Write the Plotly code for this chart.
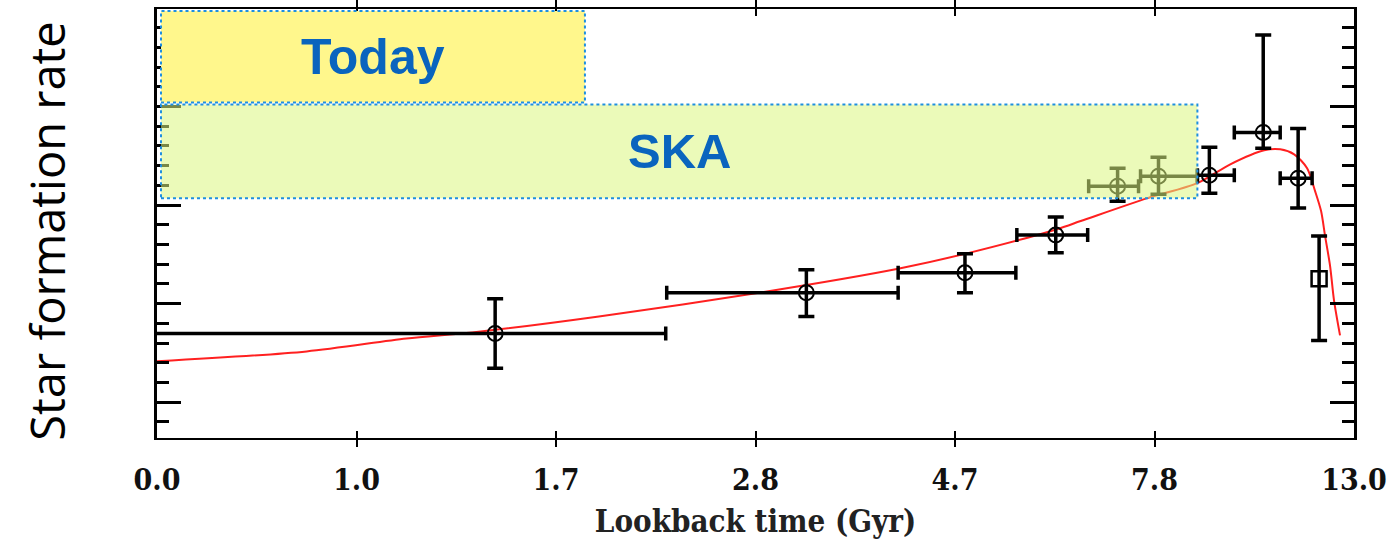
import plotly.graph_objects as go

# ---- data (x in evenly spaced tick units, y in major-tick units) ----
tick_pos = [0, 1, 2, 3, 4, 5, 6]
tick_labels = ["0.0", "1.0", "1.7", "2.8", "4.7", "7.8", "13.0"]

pt_x = [1.695, 3.255, 4.05, 4.505, 4.815, 5.02, 5.275, 5.545, 5.72]
pt_y = [0.697, 1.111, 1.313, 1.697, 2.192, 2.293, 2.303, 2.737, 2.273]
pt_xlo = [-0.06, 2.555, 3.715, 4.31, 4.67, 4.93, 5.215, 5.40, 5.63]
pt_xhi = [2.55, 3.715, 4.305, 4.665, 4.92, 5.215, 5.40, 5.63, 5.79]
pt_ylo = [0.343, 0.869, 1.111, 1.515, 2.040, 2.111, 2.121, 2.576, 1.970]
pt_yhi = [1.05, 1.343, 1.505, 1.879, 2.374, 2.485, 2.586, 3.727, 2.778]

sq_x = [5.825]
sq_y = [1.253]
sq_ylo = [0.626]
sq_yhi = [1.687]

fit_x = [0, 0.75, 1.25, 1.58, 2.215, 3.05, 3.715, 4.05, 4.515, 4.63, 4.965,
         5.215, 5.38, 5.55, 5.63, 5.70, 5.765, 5.805, 5.835, 5.855, 5.88, 5.90, 5.93]
fit_y = [0.414, 0.515, 0.646, 0.707, 0.869, 1.121, 1.354, 1.505, 1.758, 1.838, 2.071,
         2.222, 2.414, 2.556, 2.566, 2.515, 2.374, 2.141, 1.939, 1.687, 1.384, 1.030, 0.677]

box_names = ["Today", "SKA"]
box_x0 = [0.02, 0.02]
box_x1 = [2.145, 5.215]
box_y0 = [3.04, 2.07]
box_y1 = [3.97, 3.02]

fig = go.Figure()

fig.add_trace(go.Scatter(
    x=fit_x, y=fit_y, mode="lines", line=dict(color="#ff2020", width=2, shape="spline", smoothing=0.8),
    showlegend=False, hoverinfo="skip"))

fig.add_trace(go.Scatter(
    x=pt_x, y=pt_y, mode="markers",
    marker=dict(symbol="circle-open", size=15, color="black", line=dict(width=2, color="black")),
    error_x=dict(type="data", symmetric=False,
                 array=[h - x for h, x in zip(pt_xhi, pt_x)],
                 arrayminus=[x - l for l, x in zip(pt_xlo, pt_x)],
                 color="black", thickness=3.5, width=7),
    error_y=dict(type="data", symmetric=False,
                 array=[h - y for h, y in zip(pt_yhi, pt_y)],
                 arrayminus=[y - l for l, y in zip(pt_ylo, pt_y)],
                 color="black", thickness=3.5, width=8),
    showlegend=False))

fig.add_trace(go.Scatter(
    x=sq_x, y=sq_y, mode="markers",
    marker=dict(symbol="square-open", size=15, color="black", line=dict(width=2.5, color="black")),
    error_y=dict(type="data", symmetric=False,
                 array=[h - y for h, y in zip(sq_yhi, sq_y)],
                 arrayminus=[y - l for l, y in zip(sq_ylo, sq_y)],
                 color="black", thickness=3.5, width=8),
    showlegend=False))

fills = ["#FFF78C", "rgba(218,245,127,0.55)"]
sizes = [50, 49]
for i, name in enumerate(box_names):
    fig.add_shape(type="rect", xref="x", yref="y",
                  x0=box_x0[i], x1=box_x1[i], y0=box_y0[i], y1=box_y1[i],
                  fillcolor=fills[i], line=dict(color="#1E8FE0", width=2, dash="dot"),
                  layer="above")
    fig.add_annotation(x=(box_x0[i] + box_x1[i]) / 2,
                       y=(box_y0[i] + box_y1[i]) / 2,
                       text="<b>%s</b>" % name, showarrow=False,
                       font=dict(family="Liberation Sans, Arial", size=sizes[i], color="#0A64BE"))

# y-axis title as rotated text
fig.add_annotation(xref="paper", yref="paper", x=-0.092, y=0.483, text="Star formation rate",
                   textangle=-90, showarrow=False, xanchor="center", yanchor="middle",
                   font=dict(family="Open Sans, Noto Sans", size=47, color="black"))

serif = "DejaVu Serif Condensed, Liberation Serif, serif"
fig.update_layout(
    width=1394, height=544,
    margin=dict(l=157, r=37, t=7, b=106),
    paper_bgcolor="white", plot_bgcolor="white",
    xaxis=dict(range=[0, 6], tickvals=tick_pos, ticktext=tick_labels,
               showgrid=False, zeroline=False, showline=True, linecolor="black", linewidth=2,
               mirror="allticks", ticks="inside", ticklen=7, tickwidth=1.5, tickcolor="black",
               ticklabelstandoff=14,
               tickfont=dict(family=serif, size=30, color="#111", weight="bold"),
               title=dict(text="Lookback time (Gyr)",
                          font=dict(family=serif, size=31, color="#222", weight="bold"),
                          standoff=14)),
    yaxis=dict(range=[-0.364, 3.99], tickvals=[0, 1, 2, 3], showticklabels=False,
               showgrid=False, zeroline=False, showline=True, linecolor="black", linewidth=3,
               mirror=True, ticks="inside", ticklen=24, tickwidth=3, tickcolor="black",
               minor=dict(dtick=0.2, tick0=0, ticks="inside", ticklen=12, tickwidth=3, tickcolor="black")),
    yaxis2=dict(range=[-0.364, 3.99], overlaying="y", side="right", tickvals=[0, 1, 2, 3, 4],
                showticklabels=False, showgrid=False, zeroline=False, showline=True,
                linecolor="black", linewidth=3,
                ticks="inside", ticklen=24, tickwidth=3, tickcolor="black",
                minor=dict(dtick=0.2, tick0=0, ticks="inside", ticklen=12, tickwidth=3, tickcolor="black")),
)

# dummy trace to activate right axis
fig.add_trace(go.Scatter(x=[None], y=[None], yaxis="y2", showlegend=False, hoverinfo="skip"))

fig.write_html("out.html")
